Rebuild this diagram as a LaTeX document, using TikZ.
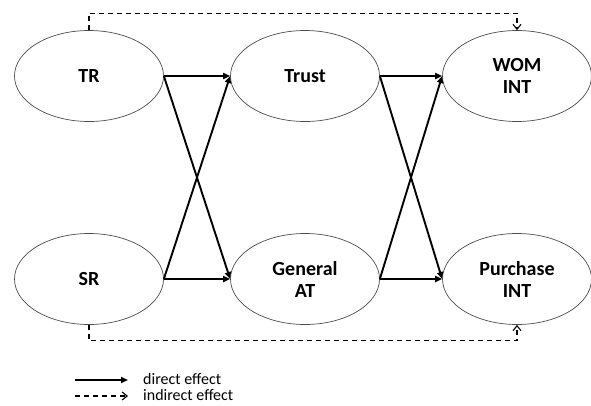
\documentclass[tikz,border=0pt]{standalone}
\usepackage{fontspec}
\setmainfont{Carlito}
\usetikzlibrary{shapes.geometric,arrows.meta}
\begin{document}
\begin{tikzpicture}[x=1pt,y=-1pt,
  construct/.style={ellipse,draw=black!70,line width=0.7pt,minimum width=149pt,minimum height=91pt,inner sep=0pt,font=\bfseries\fontsize{20}{22}\selectfont,align=center},
  direct/.style={line width=1.9pt,-{Triangle[length=7pt,width=6pt]}},
  indirect/.style={line width=1.1pt,dash pattern=on 5pt off 4pt,-{Straight Barb[length=5pt,width=8pt]}},
  legendtext/.style={anchor=west,font=\fontsize{16}{18}\selectfont,inner sep=0pt}]
\useasboundingbox (0,0) rectangle (591,405);
\node[construct] (TR) at (89,76) {TR};
\node[construct] (Trust) at (305,76) {Trust};
\node[construct] (WOM) at (517,76) {WOM\\INT};
\node[construct] (SR) at (89,279) {SR};
\node[construct] (GAT) at (305,279) {General\\AT};
\node[construct] (PI) at (517,279) {Purchase\\INT};
\draw[direct] (TR.east) -- (Trust.west);
\draw[direct] (TR.east) -- (GAT.west);
\draw[direct] (SR.east) -- (Trust.west);
\draw[direct] (SR.east) -- (GAT.west);
\draw[direct] (Trust.east) -- (WOM.west);
\draw[direct] (Trust.east) -- (PI.west);
\draw[direct] (GAT.east) -- (WOM.west);
\draw[direct] (GAT.east) -- (PI.west);
\draw[indirect] (TR.north) -- ++(0,-17) -| (WOM.north);
\draw[indirect] (SR.south) -- ++(0,16) -| (PI.south);
\coordinate (la) at (75,380);
\coordinate (lb) at (128,380);
\coordinate (lc) at (75,396);
\coordinate (ld) at (128,396);
\draw[direct] (la) -- (lb);
\draw[indirect] (lc) -- (ld);
\node[legendtext] (dl) at (143,379) {direct effect};
\node[legendtext] (il) at (143,395) {indirect effect};
\end{tikzpicture}
\end{document}
